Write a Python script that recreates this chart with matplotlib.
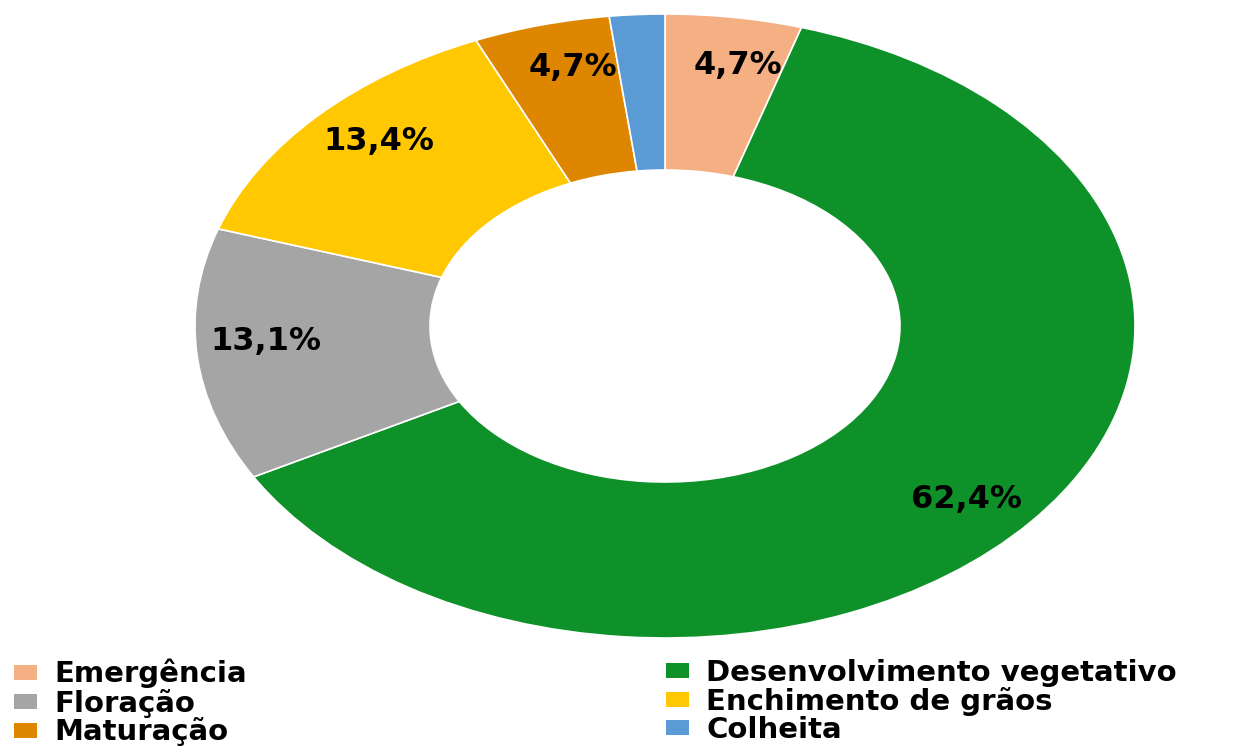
#!/usr/bin/env python3

import numpy as np
import matplotlib
matplotlib.use("Agg")
import matplotlib.pyplot as plt
from matplotlib.patches import Patch

stages = [
    "Emergência",
    "Desenvolvimento vegetativo",
    "Floração",
    "Enchimento de grãos",
    "Maturação",
    "Colheita",
]
shares = [4.7, 62.4, 13.1, 13.4, 4.7, 1.9]
show_label = [True, True, True, True, True, False]
colors = ["#F4B083", "#0E9129", "#A5A5A5", "#FFC800", "#DF8600", "#5B9BD5"]


def fmt_pct(v):
    return f"{v:.1f}%".replace(".", ",")


fig = plt.figure(figsize=(12.51, 7.48), dpi=100)
# ellipse bounding box (the reference donut is stretched horizontally)
ax = fig.add_axes([195 / 1251, 1 - 638 / 748, 940 / 1251, 624 / 748])

wedges, _ = ax.pie(
    shares,
    colors=colors,
    startangle=90,
    counterclock=False,
    radius=1.0,
    wedgeprops=dict(width=0.5, edgecolor="white", linewidth=1.2),
)
ax.set_aspect("auto")
ax.set_xlim(-1, 1)
ax.set_ylim(-1, 1)
ax.axis("off")

for w, v, show in zip(wedges, shares, show_label):
    if not show:
        continue
    mid = np.deg2rad((w.theta1 + w.theta2) / 2 - 2.0)
    r = 0.85
    ax.text(
        r * np.cos(mid),
        r * np.sin(mid),
        fmt_pct(v),
        ha="center",
        va="center",
        fontsize=23,
        fontweight="bold",
        color="black",
    )

handles = [Patch(facecolor=c, edgecolor="none") for c in colors]
left_idx = [0, 2, 4]
right_idx = [1, 3, 5]

leg_kw = dict(
    frameon=False,
    loc="upper left",
    borderpad=0,
    borderaxespad=0,
    handlelength=0.78,
    handleheight=0.42,
    handletextpad=0.6,
    labelspacing=0.0,
    prop=dict(size=21, weight="bold"),
)

leg1 = fig.legend(
    [handles[i] for i in left_idx],
    [stages[i] for i in left_idx],
    bbox_to_anchor=(14 / 1251, 1 - 659 / 748),
    **leg_kw,
)
leg2 = fig.legend(
    [handles[i] for i in right_idx],
    [stages[i] for i in right_idx],
    bbox_to_anchor=(666 / 1251, 1 - 659 / 748),
    **leg_kw,
)

fig.savefig("out.png", dpi=100)
